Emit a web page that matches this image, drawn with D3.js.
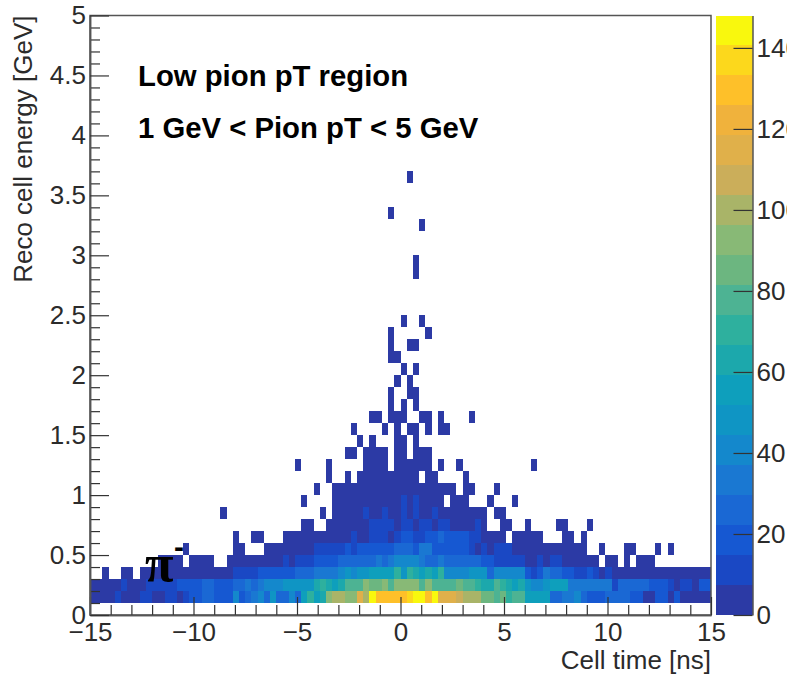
<!DOCTYPE html>
<html>
<head>
<meta charset="utf-8">
<script src="https://d3js.org/d3.v7.min.js"></script>
<style>
  html, body { margin: 0; padding: 0; background: #fff; overflow: hidden; }
  #chart { width: 787px; height: 675px; }
  text { font-family: "Liberation Sans", Arial, sans-serif; fill: #2b2b2b; }
  .axis text { font-size: 26px; }
  .axisLabel { font-size: 26px; }
  .note { font-size: 29.3px; font-weight: bold; fill: #000; }
</style>
</head>
<body>
<div id="chart"></div>
<script>
/* counts per time bin (100 bins, 0.3 ns wide), one array per energy row */
const counts_0p1 = [
  3,3,3,3,11,3,3,3,11,11, 3,3,11,11,3,11,18,18,26,26,
  18,18,18,41,18,26,33,41,26,48, 26,26,41,26,55,70,55,63,92,100,
  100,92,92,115,100,144,129,129,129,129, 129,137,144,144,129,144,115,115,115,107,
  100,100,100,85,85,78,85,70,78,78, 55,55,55,55,26,26,33,33,41,26,
  18,18,18,26,26,26,26,18,18,3, 3,18,18,3,18,3,3,3,3,3];
const counts_0p2 = [
  3,3,3,3,3,11,3,3,3,11, 11,11,11,11,18,18,18,18,26,26,
  18,18,18,26,26,33,26,33,41,41, 41,48,48,48,48,48,63,70,63,55,
  63,78,78,78,92,85,85,92,78,92, 92,92,92,78,92,78,78,78,78,85,
  78,78,70,63,63,78,70,63,55,63, 48,41,41,48,55,55,55,33,33,33,
  33,33,33,33,11,26,26,26,26,26, 18,18,18,11,3,11,11,3,18,18];
const counts_0p3 = [
  0,0,3,0,0,3,3,0,3,3, 3,3,3,3,3,3,3,3,3,3,
  3,3,3,11,11,11,11,18,18,18, 18,18,18,26,26,26,33,33,33,33,
  41,48,41,48,48,55,55,55,55,70, 48,70,63,55,63,55,70,41,41,41,
  41,48,48,48,26,41,41,41,41,41, 18,11,18,33,26,26,18,18,11,11,
  18,11,3,11,3,3,3,3,3,3, 3,3,3,3,3,3,3,3,3,3];
const counts_0p4 = [
  0,0,0,0,0,0,0,0,0,0, 0,3,3,3,3,0,3,3,3,3,
  0,0,3,3,3,3,3,3,3,3, 3,11,3,11,11,11,18,18,18,18,
  26,26,26,26,26,26,33,26,33,41, 41,41,41,33,26,26,33,26,26,26,
  26,26,26,18,18,11,11,11,11,11, 3,3,11,3,11,11,3,3,3,3,
  3,3,0,3,3,0,3,0,3,3, 3,0,0,0,0,0,0,0,0,0];
const counts_0p5 = [
  0,0,0,0,0,0,0,0,0,0, 0,0,0,0,0,3,0,0,0,0,
  0,0,0,3,3,0,0,0,3,3, 3,3,3,3,3,3,11,11,11,11,
  11,18,11,18,18,18,18,18,18,26, 26,26,18,33,33,18,18,18,18,18,
  18,11,3,11,3,11,11,11,3,3, 3,3,3,3,3,3,3,3,3,3,
  0,0,3,0,0,0,3,3,0,0, 0,3,0,3,0,0,0,0,0,0];
const counts_0p6 = [
  0,0,0,0,0,0,0,0,0,0, 0,0,0,0,0,0,0,0,0,0,
  0,0,0,3,0,0,3,3,0,0, 0,3,3,3,3,3,3,3,3,3,
  3,3,11,3,3,11,11,11,3,11, 18,18,11,11,18,18,26,18,18,18,
  18,11,11,3,3,3,3,0,3,3, 3,3,3,0,0,0,3,3,0,3,
  0,0,0,0,0,0,0,0,0,0, 0,0,0,0,0,0,0,0,0,0];
const counts_0p7 = [
  0,0,0,0,0,0,0,0,0,0, 0,0,0,0,0,0,0,0,0,0,
  0,0,0,0,0,0,0,0,0,0, 0,0,0,0,3,3,0,0,3,3,
  3,3,3,3,3,11,11,11,11,3, 11,11,3,11,11,3,11,11,3,3,
  3,3,11,3,0,0,3,3,0,0, 3,0,0,0,0,3,3,0,0,0,
  3,0,0,0,0,0,0,0,0,0, 0,0,0,0,0,0,0,0,0,0];
const counts_0p8 = [
  0,0,0,0,0,0,0,0,0,0, 0,0,0,0,0,0,0,0,0,0,
  0,3,0,0,0,0,0,0,0,0, 0,0,0,0,0,0,0,3,0,3,
  3,3,3,3,11,3,3,11,3,3, 11,3,11,3,3,11,3,3,3,3,
  3,3,3,3,0,3,3,0,0,0, 0,0,0,0,0,0,0,0,0,0,
  0,0,0,0,0,0,0,0,0,0, 0,0,0,0,0,0,0,0,0,0];
const counts_0p9 = [
  0,0,0,0,0,0,0,0,0,0, 0,0,0,0,0,0,0,0,0,0,
  0,0,0,0,0,0,0,0,0,0, 0,0,0,0,3,0,0,0,0,3,
  3,3,3,3,3,3,3,3,3,3, 11,3,11,3,3,3,3,0,3,3,
  3,0,0,0,3,0,0,0,3,0, 0,0,0,0,0,0,0,0,0,0,
  0,0,0,0,0,0,0,0,0,0, 0,0,0,0,0,0,0,0,0,0];

/* rows above 1 GeV only hold a few low counts, so just the filled bins are listed */
const bins_1p0 = [36,39,40,41,42,43,44,45,46,47,48,49,50,51,52,53,54,55,56,57,58,60,61,65];
const bins_1p1 = [38,41,43,44,45,46,47,48,49,50,51,52,54,55,60];
const bins_1p2 = [33,38,44,45,46,47,49,50,51,52,53,54,56,59,71];
const bins_1p3 = [41,42,44,45,46,47,49,50,52,53,54];
const bins_1p4 = [43,45,49,50,52];
const bins_1p5 = [42,47,49,51,52,54,56,57];
const bins_1p6 = [45,46,48,49,50,53,54,56,61];
const bins_1p7 = [48,50,52];
const bins_1p8 = [48,51,52];
const bins_1p9 = [49,51];
const bins_2p0 = [50,52];
const bins_2p1 = [48,49];
const bins_2p2 = [48,51,52];
const bins_2p3 = [48,54];
const bins_2p4 = [50,53];
const bins_2p8 = [52];
const bins_2p9 = [52];
const bins_3p2 = [53];
const bins_3p3 = [48];
const bins_3p6 = [51];

const denseRows = [
  [0.1, counts_0p1], [0.2, counts_0p2], [0.3, counts_0p3], [0.4, counts_0p4], [0.5, counts_0p5],
  [0.6, counts_0p6], [0.7, counts_0p7], [0.8, counts_0p8], [0.9, counts_0p9]
];
const sparseRows = [
  [1.0, bins_1p0], [1.1, bins_1p1], [1.2, bins_1p2], [1.3, bins_1p3], [1.4, bins_1p4],
  [1.5, bins_1p5], [1.6, bins_1p6], [1.7, bins_1p7], [1.8, bins_1p8], [1.9, bins_1p9],
  [2.0, bins_2p0], [2.1, bins_2p1], [2.2, bins_2p2], [2.3, bins_2p3], [2.4, bins_2p4],
  [2.8, bins_2p8], [2.9, bins_2p9], [3.2, bins_3p2], [3.3, bins_3p3], [3.6, bins_3p6]
];
const sparseCount = 3;

/* kBird palette as it appears on the colour bar, 20 levels from bottom to top */
const palette = [
  "#2c3aa5","#1a48c4","#1658d2","#1a68d4","#1a78d2","#1488cc","#0f95c4","#0e9fbc","#1ca8ac","#2eb09e",
  "#4db393","#6cb680","#88b976","#a9b468","#cbae5a","#e0b04a","#f0b23c","#fec029","#fcd81c","#f9f80d"
];
const zMax = 148;
const zTicks = [0,20,40,60,80,100,120,140];
const timeTicks = [-15,-10,-5,0,5,10,15];
const timeMinor = [-14,-13,-12,-11,-9,-8,-7,-6,-4,-3,-2,-1,1,2,3,4,6,7,8,9,11,12,13,14];
const energyTicks = [0,0.5,1,1.5,2,2.5,3,3.5,4,4.5,5];
const energyMinor = [0.1,0.2,0.3,0.4,0.6,0.7,0.8,0.9,1.1,1.2,1.3,1.4,1.6,1.7,1.8,1.9,2.1,2.2,2.3,2.4,
  2.6,2.7,2.8,2.9,3.1,3.2,3.3,3.4,3.6,3.7,3.8,3.9,4.1,4.2,4.3,4.4,4.6,4.7,4.8,4.9];
const binWidth = 0.3;
const rowHeight = 0.1;

const width = 787;
const height = 675;
const margin = {top: 15.5, left: 90, right: 76, bottom: 60};
const bar = {left: 715.5, right: 752.5};

const svg = d3.select("#chart")
    .append("svg")
    .attr("width", width)
    .attr("height", height);

const xScale = d3.scaleLinear()
    .domain([-15, 15])
    .range([margin.left, width-margin.right]);

const yScale = d3.scaleLinear()
    .domain([0, 5])
    .range([height-margin.bottom, margin.top]);

const zScale = d3.scaleLinear()
    .domain([0, zMax])
    .range([height-margin.bottom, margin.top]);

const colorScale = d3.scaleQuantize()
    .domain([0, zMax])
    .range(palette);

/* flatten rows into one list of cells */
let cells = [];
denseRows.forEach(function(row) {
    row[1].forEach(function(count, bin) {
        if (count > 0) cells.push({energy: row[0], bin: bin, count: count});
    });
});
sparseRows.forEach(function(row) {
    row[1].forEach(function(bin) {
        cells.push({energy: row[0], bin: bin, count: sparseCount});
    });
});

svg.selectAll("rect.cell")
    .data(cells)
    .enter()
    .append("rect")
        .attr("class", "cell")
        .attr("x", function(d) { return xScale(-15 + d.bin*binWidth); })
        .attr("y", function(d) { return yScale(d.energy + rowHeight); })
        .attr("width", xScale(binWidth) - xScale(0))
        .attr("height", yScale(0) - yScale(rowHeight))
        .attr("fill", function(d) { return colorScale(d.count); })
        .attr("shape-rendering", "crispEdges");

/* colour bar */
svg.selectAll("rect.level")
    .data(palette)
    .enter()
    .append("rect")
        .attr("class", "level")
        .attr("x", bar.left)
        .attr("y", function(d) { return zScale(colorScale.invertExtent(d)[1]); })
        .attr("width", bar.right - bar.left)
        .attr("height", function(d) {
            const e = colorScale.invertExtent(d);
            return zScale(e[0]) - zScale(e[1]);
        })
        .attr("fill", function(d) { return d; })
        .attr("shape-rendering", "crispEdges");

/* frame */
svg.append("rect")
    .attr("x", margin.left)
    .attr("y", margin.top)
    .attr("width", width-margin.left-margin.right)
    .attr("height", height-margin.top-margin.bottom)
    .attr("fill", "none")
    .attr("stroke", "#555")
    .attr("stroke-width", 1.5);

/* axes: ROOT style, ticks point into the plot */
const xMinorAxis = svg.append("g")
    .attr("transform", `translate(0,${height-margin.bottom})`)
    .call(d3.axisBottom(xScale).tickValues(timeMinor).tickSizeInner(-10).tickSizeOuter(0).tickFormat(""));

const xAxis = svg.append("g")
    .attr("class","axis")
    .attr("transform", `translate(0,${height-margin.bottom})`)
    .call(d3.axisBottom(xScale).tickValues(timeTicks).tickSizeInner(-18).tickSizeOuter(0).tickPadding(8));

const yMinorAxis = svg.append("g")
    .attr("transform", `translate(${margin.left},0)`)
    .call(d3.axisLeft(yScale).tickValues(energyMinor).tickSizeInner(-10).tickSizeOuter(0).tickFormat(""));

const yAxis = svg.append("g")
    .attr("class","axis")
    .attr("transform", `translate(${margin.left},0)`)
    .call(d3.axisLeft(yScale).tickValues(energyTicks).tickSizeInner(-19).tickSizeOuter(0).tickPadding(4).tickFormat(d3.format("~g")));

const zAxis = svg.append("g")
    .attr("class","axis")
    .attr("transform", `translate(${bar.right},0)`)
    .call(d3.axisRight(zScale).tickValues(zTicks).tickSizeInner(-19).tickSizeOuter(0).tickPadding(4));

svg.selectAll(".domain").attr("stroke", "#555").attr("stroke-width", 1.5);
svg.selectAll(".tick line").attr("stroke", "#333").attr("stroke-width", 1.2);
svg.selectAll(".axis .tick text").attr("fill", "#2b2b2b");

/* axis labels and annotations */
const xAxisLabel = svg.append("text")
    .attr("class","axisLabel")
    .attr("text-anchor","end")
    .attr("x", width-margin.right)
    .attr("y", 669)
    .text("Cell time [ns]");

const yAxisLabel = svg.append("text")
    .attr("class","axisLabel")
    .attr("text-anchor","end")
    .attr("transform","rotate(-90)")
    .attr("x", -margin.top)
    .attr("y", 32)
    .text("Reco cell energy [GeV]");

svg.append("text")
    .attr("class","note")
    .attr("x", 138)
    .attr("y", 86)
    .text("Low pion pT region");

svg.append("text")
    .attr("class","note")
    .attr("x", 138)
    .attr("y", 138)
    .text("1 GeV < Pion pT < 5 GeV");

svg.append("text")
    .attr("x", 145)
    .attr("y", 581)
    .style("font-family", '"Liberation Serif", serif')
    .style("font-size", "52px")
    .style("font-weight", "bold")
    .style("fill", "#000")
    .text("π");

svg.append("text")
    .attr("x", 174)
    .attr("y", 557)
    .style("font-family", '"Liberation Sans", sans-serif')
    .style("font-size", "30px")
    .style("font-weight", "bold")
    .style("fill", "#000")
    .text("-");
</script>
</body>
</html>
